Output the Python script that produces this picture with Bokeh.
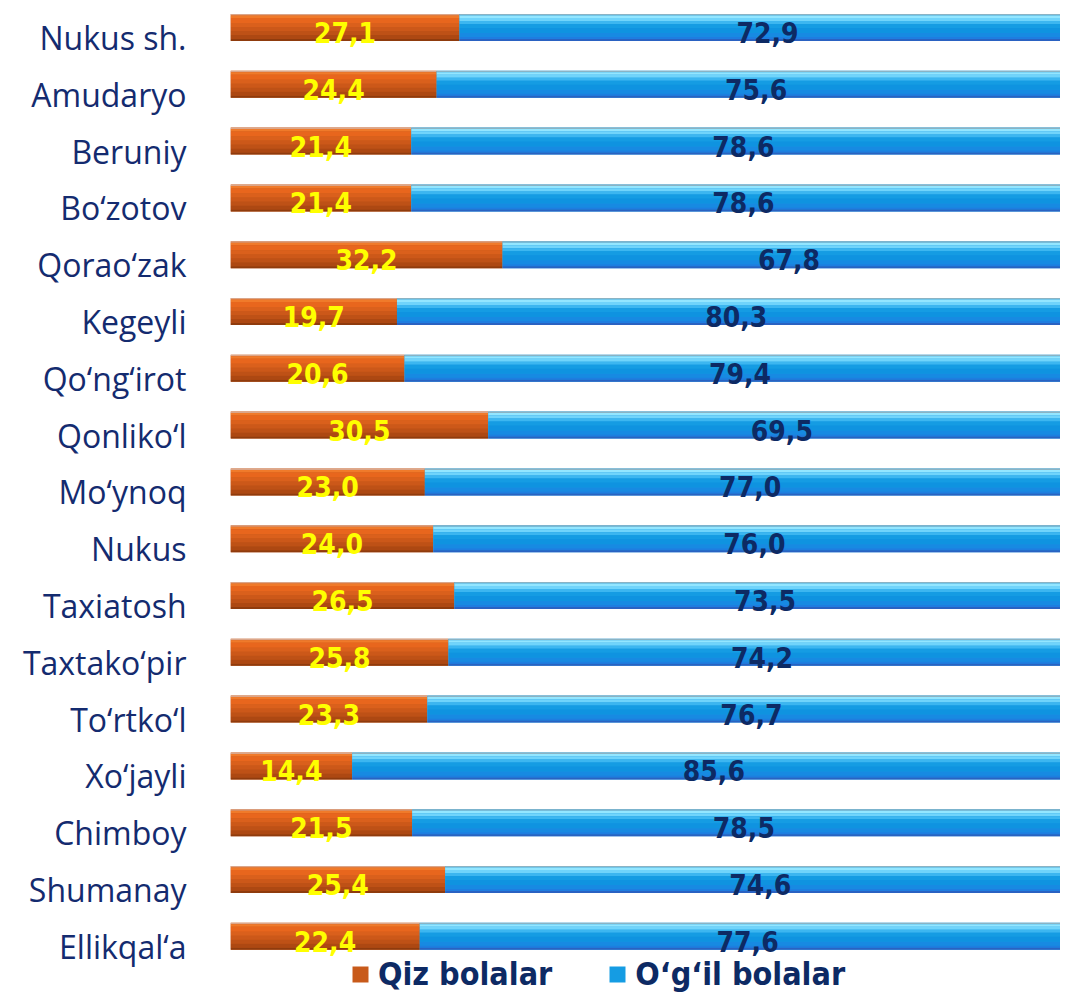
from bokeh.plotting import figure
from bokeh.models import ColumnDataSource, Range1d, FixedTicker, Legend, LegendItem
from bokeh.transform import dodge
from bokeh.core.properties import value
from bokeh.embed import file_html
from bokeh.resources import INLINE

districts = ["Nukus sh.", "Amudaryo", "Beruniy", "Bo‘zotov", "Qorao‘zak", "Kegeyli",
             "Qo‘ng‘irot", "Qonliko‘l", "Mo‘ynoq", "Nukus", "Taxiatosh", "Taxtako‘pir",
             "To‘rtko‘l", "Xo‘jayli", "Chimboy", "Shumanay", "Ellikqal‘a"]
girls = [27.1, 24.4, 21.4, 21.4, 32.2, 19.7, 20.6, 30.5, 23.0, 24.0, 26.5, 25.8, 23.3, 14.4, 21.5, 25.4, 22.4]
boys = [72.9, 75.6, 78.6, 78.6, 67.8, 80.3, 79.4, 69.5, 77.0, 76.0, 73.5, 74.2, 76.7, 85.6, 78.5, 74.6, 77.6]
series_names = ["Qiz bolalar", "O‘g‘il bolalar"]

def fmt(v):
    return f"{v:.1f}".replace(".", ",")

n = len(districts)
src = ColumnDataSource(dict(
    y=list(range(n)),
    g0=[0] * n,
    g1=girls,
    b0=girls,
    b1=[g + b for g, b in zip(girls, boys)],
    gx=[g / 2 for g in girls],
    bx=[g + b / 2 for g, b in zip(girls, boys)],
    gl=[fmt(g) for g in girls],
    bl=[fmt(b) for b in boys],
))

W, H = 1060, 992
LEFT = 230
y_lo, y_hi = -0.6514, 16.813
PITCH = H / (y_hi - y_lo)

def dy(px):
    return px / PITCH

p = figure(width=W, height=H, output_backend="svg", toolbar_location=None,
           x_range=Range1d(0, (W - LEFT) / 8.45), y_range=Range1d(y_hi, y_lo),
           min_border_left=LEFT, min_border_right=0, min_border_top=0, min_border_bottom=0)
p.outline_line_color = None
p.xgrid.grid_line_color = None
p.ygrid.grid_line_color = None
p.xaxis.visible = False
p.background_fill_color = "white"

BAR_TOP = -23.5  # px from label centre to bar top

def bands(left, right, layers):
    rs = []
    for top, bot, col in layers:
        r = p.hbar(y=dodge("y", dy(BAR_TOP + (top + bot) / 2)), height=dy(bot - top),
                   left=left, right=right, source=src, fill_color=col, line_color=None)
        rs.append(r)
    return rs

orange_layers = [(0, 27, "#c85a1a"), (0, 1.5, "#dba68a"), (1.5, 4, "#f07a2a"), (4, 9, "#e8661d"),
                 (9, 13, "#da601c"), (13, 17, "#cc5819"), (17, 21, "#be5116"), (21, 25, "#ad4812"),
                 (25, 27, "#8f3b0d")]
blue_layers = [(0, 27, "#1598e0"), (0, 1.5, "#8ab3c4"), (1.5, 4, "#93e6ff"), (4, 7, "#70d4fb"),
               (7, 10, "#3cb6f0"), (10, 14, "#159ce3"), (14, 19, "#0f93e0"), (19, 23, "#178ae2"),
               (23, 25, "#1e7de0"), (25, 27, "#2a62c2")]

o_r = bands("g0", "g1", orange_layers)
b_r = bands("b0", "b1", blue_layers)

p.text(x="gx", y=dodge("y", dy(-5)), text="gl", source=src, text_align="center",
       text_baseline="middle", text_font=value("DejaVu Sans Condensed"), text_font_style="bold",
       text_font_size="28px", text_color="#ffff00")
p.text(x="bx", y=dodge("y", dy(-5)), text="bl", source=src, text_align="center",
       text_baseline="middle", text_font=value("DejaVu Sans Condensed"), text_font_style="bold",
       text_font_size="28px", text_color="#0d2a64")

ax = p.yaxis[0]
ax.ticker = FixedTicker(ticks=list(range(n)))
ax.major_label_overrides = {i: d for i, d in enumerate(districts)}
ax.axis_line_color = None
ax.major_tick_line_color = None
ax.minor_tick_line_color = None
ax.major_tick_in = 0
ax.major_tick_out = 0
ax.major_label_text_font = "Open Sans"
ax.major_label_text_font_size = "32px"
ax.major_label_text_color = "#142b6f"
ax.major_label_standoff = 44

legend = Legend(items=[LegendItem(label=series_names[0], renderers=[o_r[0]]),
                       LegendItem(label=series_names[1], renderers=[b_r[5]])],
                orientation="horizontal", location=(120, -1))
legend.label_text_font = "DejaVu Sans Condensed"
legend.label_text_font_style = "bold"
legend.label_text_font_size = "32px"
legend.label_text_color = "#0d2a64"
legend.label_standoff = 8
legend.glyph_width = 20
legend.glyph_height = 20
legend.spacing = 55
legend.padding = 10
legend.border_line_color = None
legend.background_fill_alpha = 0
p.add_layout(legend)

open("out.html", "w").write(file_html(p, INLINE))
